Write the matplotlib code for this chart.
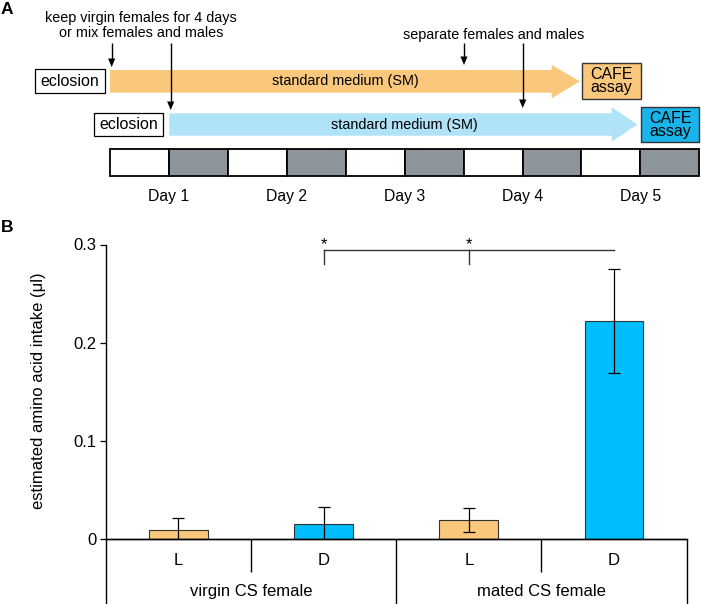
import matplotlib
matplotlib.use("Agg")
import matplotlib.pyplot as plt
from matplotlib.patches import Rectangle, Polygon

plt.rcParams['font.family'] = ['Liberation Sans', 'DejaVu Sans']

# ---------------- data ----------------
conditions = ["L", "D", "L", "D"]
groups = ["virgin CS female", "mated CS female"]
means = [0.0095, 0.0157, 0.0197, 0.222]
errors = [0.012, 0.017, 0.012, 0.053]
yticks = [0, 0.1, 0.2, 0.3]
ytick_labels = ["0", "0.1", "0.2", "0.3"]
days = ["Day 1", "Day 2", "Day 3", "Day 4", "Day 5"]
sig_pairs = [(1, 3), (2, 3)]

ORANGE = "#F9C87C"
LBLUE = "#B0E2F8"
BLUE = "#00BDFD"
BLUE_BOX = "#1AB3EA"
GRAY = "#8D959B"
EDGE = "#333333"

W, H = 701, 604
fig = plt.figure(figsize=(W / 100, H / 100), dpi=100)

# ---------------- panel A (schematic, pixel coordinates) ----------------
a = fig.add_axes([0, 0, 1, 1])
a.set_xlim(0, W)
a.set_ylim(H, 0)
a.axis("off")

fig.text(1 / W, 1 - 10 / H, "A", fontsize=12.5, fontweight="bold", va="center", ha="left")
fig.text(1 / W, 1 - 227.5 / H, "B", fontsize=12.5, fontweight="bold", va="center", ha="left")

small = 10.4
a.text(141, 18, "keep virgin females for 4 days", fontsize=small, ha="center", va="center")
a.text(141, 33, "or mix females and males", fontsize=small, ha="center", va="center")
a.text(494, 35, "separate females and males", fontsize=small, ha="center", va="center")


def down_arrow(x, y0, y1, hl=8.5, hw=3.6):
    a.plot([x, x], [y0, y1 - hl + 1], color="black", lw=1.0, solid_capstyle="butt")
    a.add_patch(Polygon([[x - hw, y1 - hl], [x + hw, y1 - hl], [x, y1]],
                        closed=True, fc="black", ec="none"))


down_arrow(111.7, 43, 67)
down_arrow(170.7, 43, 110)
down_arrow(464, 43, 65)
down_arrow(522.7, 43, 108)


def big_arrow(x0, x_head, x_tip, yt, yb, ht, hb, color):
    pts = [[x0, yt], [x_head, yt], [x_head, ht], [x_tip, (yt + yb) / 2],
           [x_head, hb], [x_head, yb], [x0, yb]]
    a.add_patch(Polygon(pts, closed=True, fc=color, ec="none", zorder=1))


big_arrow(110, 551.7, 580, 70, 92.7, 65, 98.3, ORANGE)
big_arrow(169.3, 611.7, 637.3, 113.3, 135.7, 107.3, 141.7, LBLUE)
a.text(345, 81.5, "standard medium (SM)", fontsize=small, ha="center", va="center", zorder=3)
a.text(404, 125, "standard medium (SM)", fontsize=small, ha="center", va="center", zorder=3)

# eclosion boxes
a.add_patch(Rectangle((35, 69), 70, 23.7, fc="white", ec="black", lw=0.9, zorder=2))
a.text(70, 81, "eclosion", fontsize=11.5, ha="center", va="center", zorder=3)
a.add_patch(Rectangle((94, 113.3), 68.7, 22.7, fc="white", ec="black", lw=0.9, zorder=2))
a.text(128.3, 124.6, "eclosion", fontsize=11.5, ha="center", va="center", zorder=3)

# CAFE boxes
a.add_patch(Rectangle((581.7, 62.7), 59.3, 36.3, fc=ORANGE, ec=EDGE, lw=1.0, zorder=2))
a.text(611.3, 81.3, "CAFE\nassay", fontsize=11.5, ha="center", va="center",
       linespacing=0.84, zorder=3)
a.add_patch(Rectangle((641, 106.7), 58.3, 35.6, fc=BLUE_BOX, ec=EDGE, lw=1.0, zorder=2))
a.text(670.2, 124.9, "CAFE\nassay", fontsize=11.5, ha="center", va="center",
       linespacing=0.84, zorder=3)

# light/dark strip
x_start, cell = 110.0, 58.93
n_cells = 2 * len(days)
for i in range(n_cells):
    a.add_patch(Rectangle((x_start + i * cell, 149.3), cell, 26.7,
                          fc=GRAY if i % 2 else "white", ec="black", lw=1.3, zorder=2))
for k, d in enumerate(days):
    a.text(x_start + (2 * k + 1) * cell, 196, d, fontsize=11.3, ha="center", va="center")

# ---------------- panel B (bar chart) ----------------
y0_px, y3_px = 539.3, 244.5
x_left, x_right = 105.7, 686.7
ax = fig.add_axes([x_left / W, 1 - y0_px / H, (x_right - x_left) / W, (y0_px - y3_px) / H])
ax.set_xlim(-0.5, 3.5)
ax.set_ylim(0, 0.3)
xs = list(range(len(means)))
cols = [ORANGE if c == "L" else BLUE for c in conditions]
ax.bar(xs, means, width=0.405, color=cols, edgecolor=EDGE, linewidth=0.8, zorder=2)
ax.errorbar(xs, means, yerr=errors, fmt="none", ecolor="black", elinewidth=0.9,
            capsize=4.2, capthick=0.9, zorder=3)

ax.set_yticks(yticks)
ax.set_yticklabels(ytick_labels)
ax.tick_params(axis="y", length=4.3, width=0.9, pad=2.5, labelsize=12)
ax.set_xticks([])
for s in ["top", "right"]:
    ax.spines[s].set_visible(False)
ax.spines["left"].set_linewidth(1.0)
ax.spines["bottom"].set_linewidth(1.0)

# category box below the axis
ybot = -0.075
line_kw = dict(color="black", lw=1.0, clip_on=False, solid_capstyle="butt")
ax.plot([-0.5, -0.5], [0, ybot], **line_kw)
ax.plot([3.5, 3.5], [0, ybot], **line_kw)
ax.plot([1.5, 1.5], [0, ybot], **line_kw)
ax.plot([-0.5, 3.5], [0, 0], **line_kw)
for xb in (0.5, 2.5):
    ax.plot([xb, xb], [0, -0.033], **line_kw)
for x, c in zip(xs, conditions):
    ax.text(x, -0.0218, c, fontsize=12, ha="center", va="center")
for g, name in enumerate(groups):
    ax.text(2 * g + 0.5, -0.0533, name, fontsize=12, ha="center", va="center")

# significance bracket
y_line, y_tick = 0.2943, 0.2797
xmin = min(p[0] for p in sig_pairs)
xmax = max(p[1] for p in sig_pairs)
ax.plot([xmin, xmax], [y_line, y_line], color="#333333", lw=1.0, clip_on=False)
for p in sig_pairs:
    ax.plot([p[0], p[0]], [y_tick, y_line], color="#333333", lw=1.0, clip_on=False)
    ax.text(p[0], y_line + 0.0005, "*", fontsize=12, ha="center", va="baseline")

fig.text(38.5 / W, 1 - 391 / H, "estimated amino acid intake (\u03bcl)", fontsize=12,
         rotation=90, ha="center", va="center")

fig.savefig("out.png", dpi=100)
